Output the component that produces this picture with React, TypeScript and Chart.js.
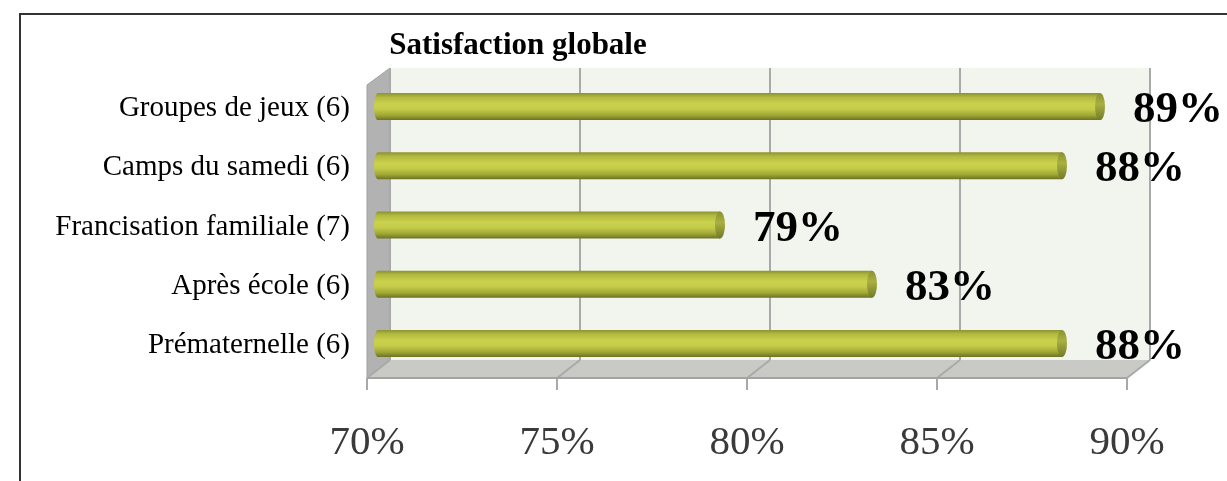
import React, { useEffect, useRef } from "react";
import { Chart, registerables } from "chart.js";

Chart.register(...registerables);

const categories = [
  "Groupes de jeux (6)",
  "Camps du samedi (6)",
  "Francisation familiale (7)",
  "Après école (6)",
  "Prématernelle (6)",
];
const satisfaction = [89, 88, 79, 83, 88];
const xTicks = [70, 75, 80, 85, 90];
const chartTitle = "Satisfaction globale";

const DEPTH_BACK = { dx: 12, dy: -9 };
const DEPTH_FRONT = { dx: -11, dy: 5 };

const scenePlugin = {
  id: "scene3d",
  beforeDatasetsDraw(chart: any) {
    const { ctx, chartArea } = chart;
    const xs = chart.scales.x;
    const L = xs.getPixelForValue(xTicks[0]);
    const R = xs.getPixelForValue(xTicks[xTicks.length - 1]);
    const T = chartArea.top;
    const B = chartArea.bottom;
    const bT = T + DEPTH_BACK.dy;
    const bB = B - 13;
    const fB = B + DEPTH_FRONT.dy;
    const fT = T + 8;
    ctx.save();
    ctx.fillStyle = "#f2f5ee";
    ctx.fillRect(L + DEPTH_BACK.dx, bT, R - L, bB - bT);
    ctx.beginPath();
    ctx.moveTo(L + DEPTH_FRONT.dx, fB);
    ctx.lineTo(L + DEPTH_BACK.dx, bB);
    ctx.lineTo(R + DEPTH_BACK.dx, bB);
    ctx.lineTo(R + DEPTH_FRONT.dx, fB);
    ctx.closePath();
    ctx.fillStyle = "#c9cac6";
    ctx.fill();
    ctx.beginPath();
    ctx.moveTo(L + DEPTH_FRONT.dx, fT);
    ctx.lineTo(L + DEPTH_BACK.dx, bT);
    ctx.lineTo(L + DEPTH_BACK.dx, bB);
    ctx.lineTo(L + DEPTH_FRONT.dx, fB);
    ctx.closePath();
    ctx.fillStyle = "#b2b2b2";
    ctx.fill();
    ctx.strokeStyle = "#a0a0a0";
    ctx.lineWidth = 1;
    ctx.stroke();
    ctx.strokeStyle = "#a9a9a9";
    ctx.lineWidth = 2;
    xTicks.forEach((v) => {
      const px = xs.getPixelForValue(v);
      ctx.beginPath();
      ctx.moveTo(px + DEPTH_BACK.dx, bT);
      ctx.lineTo(px + DEPTH_BACK.dx, bB);
      ctx.stroke();
      ctx.beginPath();
      ctx.moveTo(px + DEPTH_FRONT.dx, fB);
      ctx.lineTo(px + DEPTH_BACK.dx, bB);
      ctx.stroke();
      ctx.beginPath();
      ctx.moveTo(px + DEPTH_FRONT.dx, fB);
      ctx.lineTo(px + DEPTH_FRONT.dx, fB + 12);
      ctx.stroke();
    });
    ctx.strokeStyle = "#a3a3a3";
    ctx.lineWidth = 2;
    ctx.beginPath();
    ctx.moveTo(L + DEPTH_FRONT.dx, fB);
    ctx.lineTo(R + DEPTH_FRONT.dx, fB);
    ctx.stroke();
    ctx.fillStyle = "#3a3a3a";
    ctx.font = "41px 'Liberation Serif'";
    ctx.textAlign = "center";
    ctx.textBaseline = "middle";
    xTicks.forEach((v) => {
      const px = xs.getPixelForValue(v);
      ctx.fillText(v + "%", px + DEPTH_FRONT.dx, 443);
    });
    ctx.fillStyle = "#000";
    ctx.font = "bold 31px 'Liberation Serif'";
    ctx.fillText(chartTitle, L + 140, 46);
    ctx.restore();
  },
  afterDatasetsDraw(chart: any) {
    const { ctx } = chart;
    const meta = chart.getDatasetMeta(0);
    ctx.save();
    meta.data.forEach((bar: any, i: number) => {
      const { x, y, base, height } = bar.getProps(["x", "y", "base", "height"], true);
      const top = y - height / 2;
      const g = ctx.createLinearGradient(0, top, 0, top + height);
      g.addColorStop(0, "#8b9231");
      g.addColorStop(0.15, "#b2ba3f");
      g.addColorStop(0.4, "#c9d14d");
      g.addColorStop(0.6, "#c3cb49");
      g.addColorStop(0.82, "#a0a835");
      g.addColorStop(1, "#6c7224");
      ctx.fillStyle = g;
      ctx.beginPath();
      ctx.ellipse(base, y, 4, height / 2, 0, Math.PI / 2, (Math.PI * 3) / 2);
      ctx.lineTo(x, top);
      ctx.lineTo(x, top + height);
      ctx.closePath();
      ctx.fill();
      const g2 = ctx.createLinearGradient(0, top, 0, top + height);
      g2.addColorStop(0, "#8a9032");
      g2.addColorStop(0.4, "#a9b040");
      g2.addColorStop(1, "#737a28");
      ctx.fillStyle = g2;
      ctx.beginPath();
      ctx.ellipse(x, y, 5, height / 2, 0, 0, Math.PI * 2);
      ctx.fill();
      ctx.fillStyle = "#000";
      ctx.font = "bold 45px 'Liberation Serif'";
      ctx.textAlign = "left";
      ctx.textBaseline = "middle";
      ctx.fillText(satisfaction[i] + "%", x + 33, y + 4);
    });
    ctx.restore();
  },
};

export default function App() {
  const canvasRef = useRef<HTMLCanvasElement | null>(null);

  useEffect(() => {
    document.body.style.margin = "0";
    const canvas = canvasRef.current;
    if (!canvas) return;
    const chart = new Chart(canvas, {
      type: "bar",
      data: {
        labels: categories,
        datasets: [
          {
            data: satisfaction,
            base: xTicks[0],
            backgroundColor: "rgba(0,0,0,0)",
            borderWidth: 0,
            barThickness: 27,
          } as any,
        ],
      },
      options: {
        indexAxis: "y",
        responsive: false,
        animation: false,
        devicePixelRatio: 1,
        layout: { padding: { left: 0, right: 89, top: 77, bottom: 108 } },
        plugins: {
          legend: { display: false },
          tooltip: { enabled: false },
          title: { display: false },
        },
        scales: {
          x: {
            display: false,
            min: xTicks[0],
            max: xTicks[xTicks.length - 1],
          },
          y: {
            grid: { display: false },
            border: { display: false },
            ticks: {
              padding: 20,
              labelOffset: 2,
              color: "#000",
              font: { family: "'Liberation Serif'", size: 29 },
            },
            afterFit: (scale: any) => {
              scale.width = 378;
            },
          },
        },
      },
      plugins: [scenePlugin],
    });
    return () => chart.destroy();
  }, []);

  return (
    <div style={{ position: "relative", width: 1227, height: 481, overflow: "hidden", background: "#fff" }}>
      <div
        style={{
          position: "absolute",
          left: 19,
          top: 13,
          width: 1400,
          height: 700,
          border: "2px solid #333",
        }}
      />
      <canvas
        ref={canvasRef}
        width={1227}
        height={481}
        style={{ position: "absolute", left: 0, top: 0 }}
      />
    </div>
  );
}
